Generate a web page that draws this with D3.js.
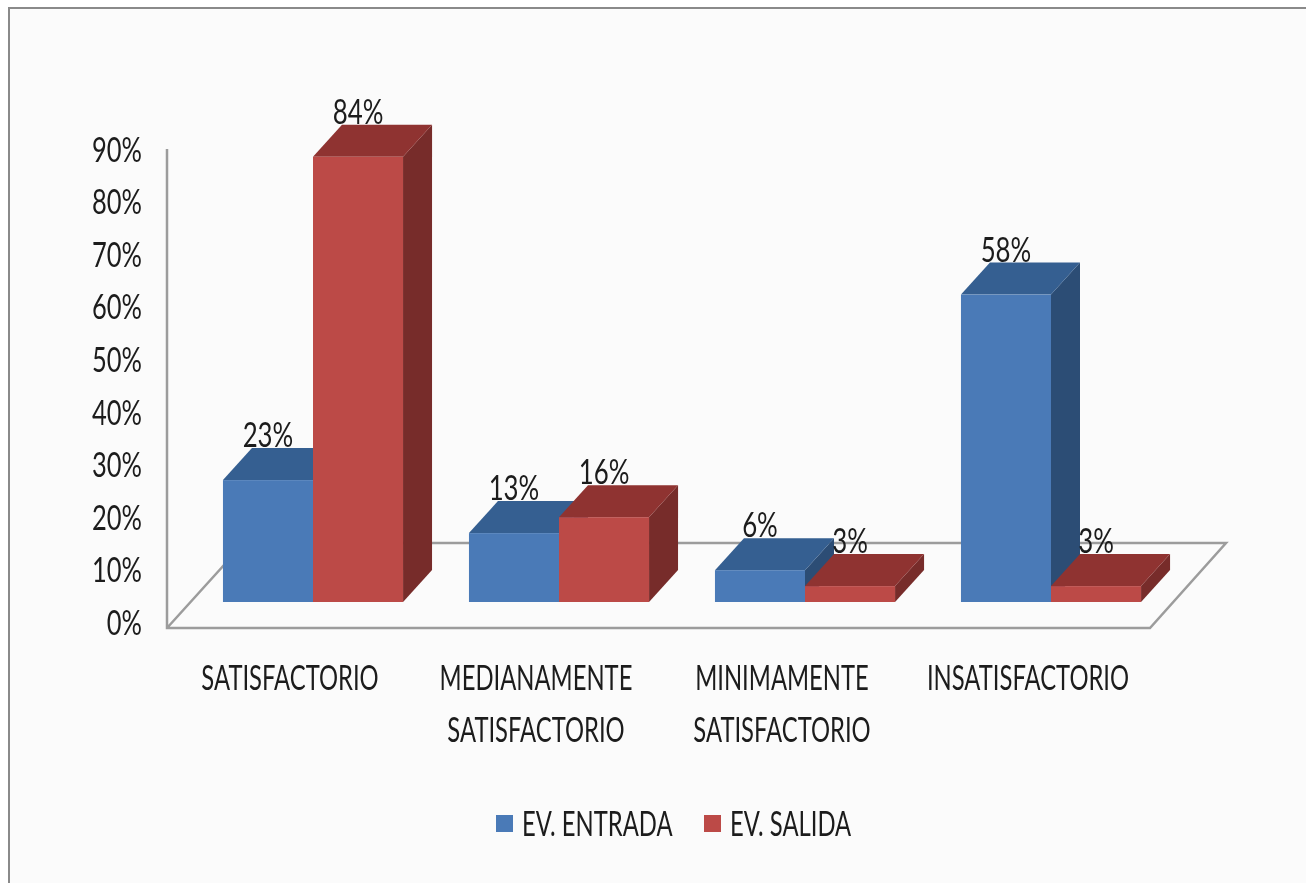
<!DOCTYPE html>
<html>
<head>
<meta charset="utf-8">
<script src="https://cdn.jsdelivr.net/npm/d3@7"></script>
<style>
  html, body { margin: 0; padding: 0; background: #fff; }
  text { font-family: Lato, "Liberation Sans", sans-serif; fill: #1c1c1c; }
</style>
</head>
<body>
<div id="chart-area"></div>
<script>
const WIDTH = 1306
const HEIGHT = 883

const categories = ["SATISFACTORIO", "MEDIANAMENTE SATISFACTORIO", "MINIMAMENTE SATISFACTORIO", "INSATISFACTORIO"]
const categoryLines = [["SATISFACTORIO"], ["MEDIANAMENTE", "SATISFACTORIO"], ["MINIMAMENTE", "SATISFACTORIO"], ["INSATISFACTORIO"]]
const seriesNames = ["EV. ENTRADA", "EV. SALIDA"]
const entrada = [23, 13, 6, 58]
const salida = [84, 16, 3, 3]
const yTicks = [0, 10, 20, 30, 40, 50, 60, 70, 80, 90]

// front, top and side faces of the 3D bars
const colors = {
  "EV. ENTRADA": { front: "#4a7ab7", top: "#355f91", side: "#2c4d75" },
  "EV. SALIDA": { front: "#bc4a47", top: "#8f3331", side: "#772c2a" }
}
const DEPTH_X = 29
const DEPTH_Y = 32
const FONT_SIZE = 34

// the original is a horizontally squashed screenshot
function squeeze(sel, factor) {
  sel.each(function () {
    const len = this.getComputedTextLength()
    d3.select(this)
      .attr("textLength", len * factor)
      .attr("lengthAdjust", "spacingAndGlyphs")
  })
}

const svg = d3.select("#chart-area")
  .append("svg")
  .attr("width", WIDTH)
  .attr("height", HEIGHT)
  .style("display", "block")
  .style("filter", "blur(0.5px)")

// Frame
svg.append("rect")
  .attr("x", 9).attr("y", 8)
  .attr("width", WIDTH + 20).attr("height", HEIGHT + 20)
  .attr("fill", "#fbfbfb")
  .attr("stroke", "#8a8a8a")
  .attr("stroke-width", 2)

const x0 = d3.scaleBand()
  .domain(categories)
  .range([190, 1174])
  .paddingInner(0.268)
  .paddingOuter(0.134)

const x1 = d3.scaleBand()
  .domain(seriesNames)
  .range([0, x0.bandwidth()])

// bars stand on the floor, 26px up from the axis zero
const yBar = d3.scaleLinear().domain([0, 90]).range([602, 125])
const yLabel = d3.scaleLinear().domain([0, 90]).range([622, 149])

// Floor and walls
svg.append("path")
  .attr("d", "M167,149 L167,628 L1150,628 L1226,543 L244,543 L167,628")
  .attr("fill", "none")
  .attr("stroke", "#9c9c9c")
  .attr("stroke-width", 2.5)

// Y axis labels
const yAxisCall = d3.axisLeft(yLabel)
  .tickValues(yTicks)
  .tickSize(0)
  .tickPadding(0)
  .tickFormat(d => d + "%")

const yAxis = svg.append("g")
  .attr("class", "y axis")
  .attr("transform", "translate(142, 0)")
  .call(yAxisCall)
yAxis.select(".domain").remove()
yAxis.selectAll("text")
  .attr("font-size", FONT_SIZE + "px")
  .attr("font-family", null)
  .attr("dy", "0.36em")
  .call(squeeze, 0.75)

// Bars
const rows = []
categories.forEach((c, i) => {
  rows.push({ cat: c, series: seriesNames[0], value: entrada[i] })
  rows.push({ cat: c, series: seriesNames[1], value: salida[i] })
})

const bars = svg.append("g").selectAll("g")
  .data(rows)
  .enter().append("g")

const left = d => x0(d.cat) + x1(d.series)
const right = d => left(d) + x1.bandwidth()

bars.append("path")
  .attr("fill", d => colors[d.series].side)
  .attr("d", d => `M${right(d)},${yBar(0)} L${right(d) + DEPTH_X},${yBar(0) - DEPTH_Y} L${right(d) + DEPTH_X},${yBar(d.value) - DEPTH_Y} L${right(d)},${yBar(d.value)} Z`)

bars.append("path")
  .attr("fill", d => colors[d.series].top)
  .attr("d", d => `M${left(d)},${yBar(d.value)} L${left(d) + DEPTH_X},${yBar(d.value) - DEPTH_Y} L${right(d) + DEPTH_X},${yBar(d.value) - DEPTH_Y} L${right(d)},${yBar(d.value)} Z`)

bars.append("rect")
  .attr("x", left)
  .attr("y", d => yBar(d.value))
  .attr("width", x1.bandwidth())
  .attr("height", d => yBar(0) - yBar(d.value))
  .attr("fill", d => colors[d.series].front)

// Value labels
svg.append("g").selectAll("text")
  .data(rows)
  .enter().append("text")
  .attr("x", d => left(d) + x1.bandwidth() / 2)
  .attr("y", d => yBar(d.value) - 45)
  .attr("dy", "0.36em")
  .attr("text-anchor", "middle")
  .attr("font-size", FONT_SIZE + "px")
  .text(d => d.value + "%")
  .call(squeeze, 0.76)

// Category labels, one text per line
const lineRows = []
categories.forEach((c, i) => {
  categoryLines[i].forEach((line, j) => lineRows.push({ cat: c, line, j }))
})

svg.append("g").selectAll("text")
  .data(lineRows)
  .enter().append("text")
  .attr("text-anchor", "middle")
  .attr("font-size", FONT_SIZE + "px")
  .attr("x", d => x0(d.cat) + x0.bandwidth() / 2 - 23)
  .attr("y", d => 690 + d.j * 52)
  .text(d => d.line)
  .call(squeeze, 0.7)

// Legend
const legend = svg.append("g").selectAll("g")
  .data(seriesNames)
  .enter().append("g")
  .attr("transform", (d, i) => `translate(${i === 0 ? 496 : 704}, 815)`)

legend.append("rect")
  .attr("width", 17)
  .attr("height", 17)
  .attr("fill", d => colors[d].front)

legend.append("text")
  .attr("x", 26)
  .attr("y", 8.5)
  .attr("dy", "0.36em")
  .attr("font-size", FONT_SIZE + "px")
  .text(d => d)
  .call(squeeze, 0.7)
</script>
</body>
</html>
